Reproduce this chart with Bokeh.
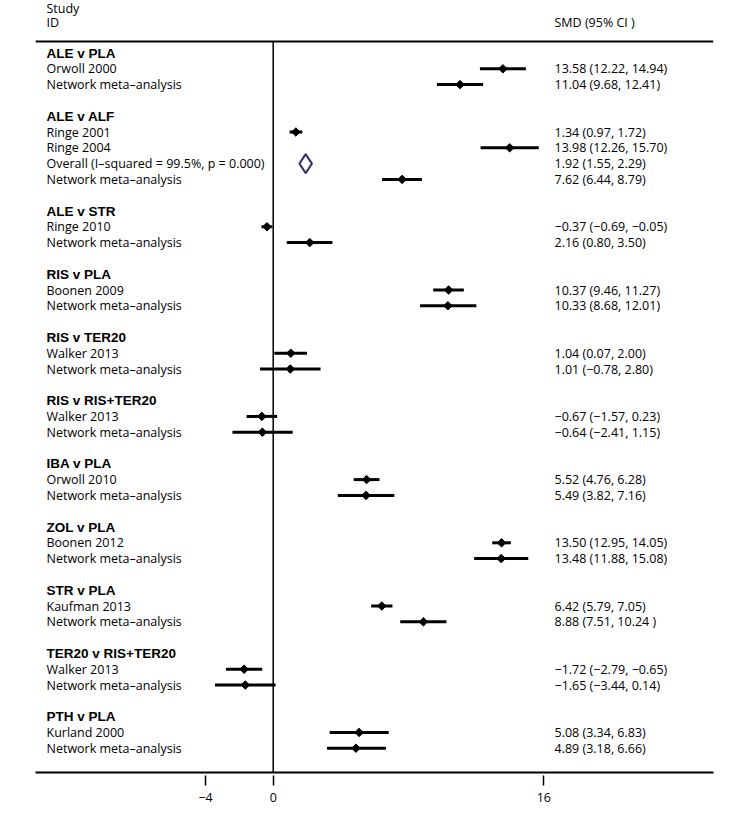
import math
from bokeh.plotting import figure
from bokeh.models import Range1d, FixedTicker, ColumnDataSource, Span
from bokeh.core.properties import value
from bokeh.embed import file_html
from bokeh.resources import INLINE

# ---------------- data ----------------
groups = ["ALE v PLA", "ALE v ALF", "ALE v STR", "RIS v PLA", "RIS v TER20",
          "RIS v RIS+TER20", "IBA v PLA", "ZOL v PLA", "STR v PLA",
          "TER20 v RIS+TER20", "PTH v PLA"]

group_of = [0, 0,
            1, 1, 1, 1,
            2, 2,
            3, 3,
            4, 4,
            5, 5,
            6, 6,
            7, 7,
            8, 8,
            9, 9,
            10, 10]

studies = ["Orwoll 2000", "Network meta\u2013analysis",
           "Ringe 2001", "Ringe 2004", "Overall  (I\u2013squared = 99.5%, p = 0.000)", "Network meta\u2013analysis",
           "Ringe 2010", "Network meta\u2013analysis",
           "Boonen 2009", "Network meta\u2013analysis",
           "Walker 2013", "Network meta\u2013analysis",
           "Walker 2013", "Network meta\u2013analysis",
           "Orwoll 2010", "Network meta\u2013analysis",
           "Boonen 2012", "Network meta\u2013analysis",
           "Kaufman 2013", "Network meta\u2013analysis",
           "Walker 2013", "Network meta\u2013analysis",
           "Kurland 2000", "Network meta\u2013analysis"]

kinds = ["study", "network",
         "study", "study", "overall", "network",
         "study", "network",
         "study", "network",
         "study", "network",
         "study", "network",
         "study", "network",
         "study", "network",
         "study", "network",
         "study", "network",
         "study", "network"]

smd = [13.58, 11.04,
       1.34, 13.98, 1.92, 7.62,
       -0.37, 2.16,
       10.37, 10.33,
       1.04, 1.01,
       -0.67, -0.64,
       5.52, 5.49,
       13.50, 13.48,
       6.42, 8.88,
       -1.72, -1.65,
       5.08, 4.89]

ci_lo = [12.22, 9.68,
         0.97, 12.26, 1.55, 6.44,
         -0.69, 0.80,
         9.46, 8.68,
         0.07, -0.78,
         -1.57, -2.41,
         4.76, 3.82,
         12.95, 11.88,
         5.79, 7.51,
         -2.79, -3.44,
         3.34, 3.18]

ci_hi = [14.94, 12.41,
         1.72, 15.70, 2.29, 8.79,
         -0.05, 3.50,
         11.27, 12.01,
         2.00, 2.80,
         0.23, 1.15,
         6.28, 7.16,
         14.05, 15.08,
         7.05, 10.24,
         -0.65, 0.14,
         6.83, 6.66]

ci_text = ["13.58 (12.22, 14.94)", "11.04 (9.68, 12.41)",
           "1.34 (0.97, 1.72)", "13.98 (12.26, 15.70)", "1.92 (1.55, 2.29)", "7.62 (6.44, 8.79)",
           "\u22120.37 (\u22120.69, \u22120.05)", "2.16 (0.80, 3.50)",
           "10.37 (9.46, 11.27)", "10.33 (8.68, 12.01)",
           "1.04 (0.07, 2.00)", "1.01 (\u22120.78, 2.80)",
           "\u22120.67 (\u22121.57, 0.23)", "\u22120.64 (\u22122.41, 1.15)",
           "5.52 (4.76, 6.28)", "5.49 (3.82, 7.16)",
           "13.50 (12.95, 14.05)", "13.48 (11.88, 15.08)",
           "6.42 (5.79, 7.05)", "8.88 (7.51, 10.24 )",
           "\u22121.72 (\u22122.79, \u22120.65)", "\u22121.65 (\u22123.44, 0.14)",
           "5.08 (3.34, 6.83)", "4.89 (3.18, 6.66)"]

x_ticks = [-4, 0, 16]
x_tick_labels = {-4: "\u22124", 0: "0", 16: "16"}

# ---------------- row layout ----------------
rows = [0] * len(studies)
title_rows = []
r = 0
for g in range(len(groups)):
    title_rows.append(r)
    r += 1
    for i, gi in enumerate(group_of):
        if gi == g:
            rows[i] = r
            r += 1
    r += 1

# pixel calibration (reference): x=0 at 272.7px, 16.915 px/unit; row 1 at 68.3px, 15.8 px/row
PX0, PXU = 272.7, 16.915
PY1, PYU = 68.3, 15.8
def xd(px):
    return (px - PX0) / PXU
def yd(py):
    return (py - PY1) / PYU + 1

W, H = 740, 812
MB_L, MB_R, MB_T, MB_B = 35, 27, 0, 40
x0 = xd(MB_L)
x1 = xd(W - MB_R)
y_top = yd(MB_T)
y_bot = yd(H - MB_B)

NORMAL = "Open Sans"
BOLD = "Liberation Sans"
FS = "12.5px"

p = figure(width=W, height=H, x_range=Range1d(x0, x1), y_range=Range1d(y_bot, y_top),
           output_backend="svg", toolbar_location=None, y_axis_location=None,
           min_border_left=MB_L, min_border_right=MB_R, min_border_top=MB_T,
           min_border_bottom=MB_B)
p.grid.visible = False
p.outline_line_color = None
p.background_fill_color = "white"
p.border_fill_color = "white"

ax = p.xaxis[0]
ax.ticker = FixedTicker(ticks=x_ticks)
ax.major_label_overrides = x_tick_labels
ax.axis_line_width = 2
ax.axis_line_color = "black"
ax.major_tick_in = -3
ax.major_tick_out = 13
ax.major_tick_line_width = 1.5
ax.major_tick_line_color = "black"
ax.minor_tick_line_color = None
ax.major_label_text_font = NORMAL
ax.major_label_text_font_size = FS
ax.major_label_text_color = "black"
ax.major_label_standoff = 7

top_line_row = yd(41)
p.add_layout(Span(location=top_line_row, dimension="width", line_color="black", line_width=2))

# null line
p.segment(x0=[0], y0=[top_line_row], x1=[0], y1=[y_bot], line_color="black", line_width=1.5)

# confidence intervals and points
ci_idx = [i for i, k in enumerate(kinds) if k != "overall"]
src = ColumnDataSource(dict(
    lo=[ci_lo[i] for i in ci_idx], hi=[ci_hi[i] for i in ci_idx],
    est=[smd[i] for i in ci_idx], row=[rows[i] for i in ci_idx]))
p.segment(x0="lo", y0="row", x1="hi", y1="row", source=src, line_color="black", line_width=3)
p.scatter(x="est", y="row", source=src, marker="square", angle=math.pi / 4, size=6,
          fill_color="black", line_color="black")

# overall diamond
for i, k in enumerate(kinds):
    if k == "overall":
        rr = rows[i]
        p.patch(x=[ci_lo[i], smd[i], ci_hi[i], smd[i]], y=[rr, rr - 0.6, rr, rr + 0.6],
                fill_color="white", line_color="#33306e", line_width=2)

# texts
lx = xd(46)
rx = xd(554)
p.text(x=lx, y=rows, text=studies, text_font=value(NORMAL), text_font_size=FS,
       text_baseline="middle", text_align="left", text_color="black")
p.text(x=lx, y=title_rows, text=groups, text_font=value(BOLD), text_font_size="13.5px",
       text_font_style="bold", text_baseline="middle", text_align="left", text_color="black")
p.text(x=rx, y=rows, text=ci_text, text_font=value(NORMAL), text_font_size=FS,
       text_baseline="middle", text_align="left", text_color="black")
p.text(x=[lx, lx, rx], y=[-2.8, -1.96, -1.96], text=["Study", "ID", "SMD (95% CI  )"],
       text_font=value(NORMAL), text_font_size=FS, text_baseline="middle",
       text_align="left", text_color="black")

open("out.html", "w").write(file_html(p, INLINE))
